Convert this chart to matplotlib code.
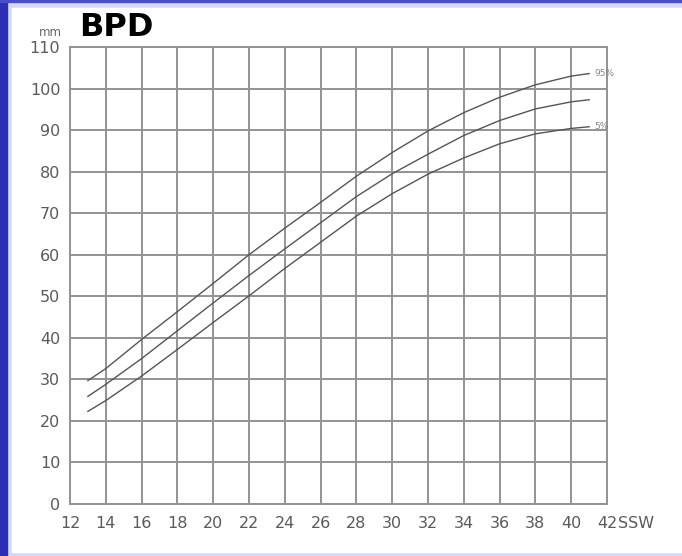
import matplotlib
matplotlib.use("Agg")
import matplotlib.pyplot as plt
from matplotlib.patches import Rectangle

weeks = [13, 14, 16, 18, 20, 22, 24, 26, 28, 30, 32, 34, 36, 38, 40, 41]
p95 = [29.7, 32.6, 39.6, 46.3, 53.1, 60.0, 66.4, 72.6, 78.9, 84.6, 89.8, 94.2, 97.9, 100.9, 103.0, 103.6]
p50 = [25.9, 28.8, 35.0, 41.7, 48.4, 55.0, 61.4, 67.7, 74.0, 79.5, 84.2, 88.7, 92.3, 95.1, 96.8, 97.3]
p5 = [22.3, 24.9, 30.8, 37.2, 43.7, 50.1, 56.7, 63.0, 69.3, 74.7, 79.4, 83.3, 86.7, 89.1, 90.4, 90.8]

x_ticks = list(range(12, 43, 2))
y_ticks = list(range(0, 111, 10))

W, H = 682, 556
fig = plt.figure(figsize=(W / 100, H / 100), dpi=100)
fig.patch.set_facecolor("#d6d8f8")

def px_rect(x0, y0, x1, y1, color):
    fig.patches.append(Rectangle((x0 / W, 1 - y1 / H), (x1 - x0) / W, (y1 - y0) / H,
                                 transform=fig.transFigure, color=color, zorder=-10))

px_rect(12, 8, W, 552, "white")
px_rect(0, 0, 7, H, "#2c2eb4")
px_rect(0, 0, W, 2, "#4a4cd0")

ax = fig.add_axes([70 / W, 1 - 504 / H, (607 - 70) / W, (504 - 47) / H])
ax.set_zorder(5)
ax.set_facecolor("white")
ax.set_xlim(12, 42)
ax.set_ylim(0, 110)
ax.set_xticks(x_ticks)
ax.set_yticks(y_ticks)
ax.grid(True, color="#939393", linewidth=1.4)
ax.set_axisbelow(True)
for s in ax.spines.values():
    s.set_color("#939393")
    s.set_linewidth(1.4)
ax.tick_params(length=0, labelcolor="#5a5a5a", labelsize=11.5)
ax.tick_params(axis="x", pad=9)
ax.tick_params(axis="y", pad=7)
for lab in ax.get_xticklabels() + ax.get_yticklabels():
    lab.set_family("DejaVu Sans")

for vals in (p95, p50, p5):
    ax.plot(weeks, vals, color="#555555", linewidth=1.0)

ax.text(41.3, p95[-1], "95%", fontsize=6.5, color="#888888", va="center", ha="left")
ax.text(41.3, p5[-1], "5%", fontsize=6.5, color="#888888", va="center", ha="left")

fig.text(618 / W, 1 - 523 / H, "SSW", fontsize=11.5, color="#5a5a5a", va="center", ha="left")
fig.text(62 / W, 1 - 33 / H, "mm", fontsize=8.5, color="#666666", va="center", ha="right")
fig.text(79 / W, 1 - 27 / H, "BPD", fontsize=23, fontweight="bold", color="black",
         va="center", ha="left", family="DejaVu Sans")

fig.savefig("out.png", dpi=100, facecolor=fig.get_facecolor())
